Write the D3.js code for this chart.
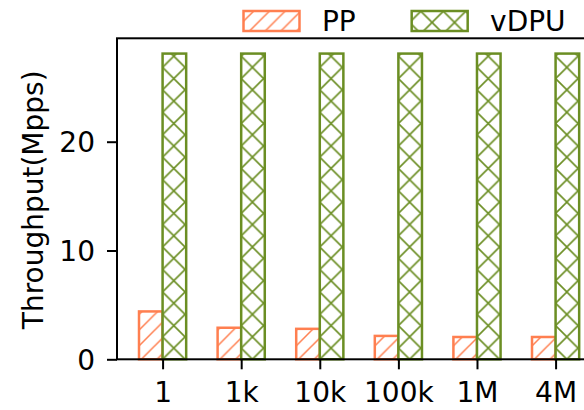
<!DOCTYPE html>
<html>
<head>
<meta charset="utf-8">
<script src="https://cdn.jsdelivr.net/npm/d3@7/dist/d3.min.js"></script>
<style>
  body { margin: 0; background: #fff; }
  svg { display: block; font-family: "DejaVu Sans", sans-serif; }
</style>
</head>
<body>
<div id="chart"></div>
<script>
// data
const categories = ["1", "1k", "10k", "100k", "1M", "4M"]
const ppValues = [4.4, 2.9, 2.8, 2.15, 2.05, 2.05]
const vdpuValues = [28.1, 28.1, 28.1, 28.1, 28.1, 28.1]
const yTicks = [0, 10, 20]
const seriesNames = ["PP", "vDPU"]
const seriesColors = ["#ff7f50", "#6b8e23"]

const W = 584, H = 410
const fontSize = 28
const barWidth = 0.3

const svg = d3.select("#chart").append("svg")
  .attr("width", W)
  .attr("height", H)

// axes box (right side runs past the window, like the original)
const plotLeft = 117, plotTop = 38.3, plotBottom = 359.3
const step = 78.6
const x = d3.scaleLinear()
  .domain([-0.58, categories.length - 1 + 0.58])
  .range([plotLeft, plotLeft + step * (categories.length - 1 + 1.16)])
const y = d3.scaleLinear()
  .domain([0, d3.max(vdpuValues) * 1.05])
  .range([plotBottom, plotTop])

// hatch patterns: "/" for PP, "x" for vDPU
const defs = svg.append("defs")
const pSlash = step / 5
const slash = defs.append("pattern")
  .attr("id", "hatchPP")
  .attr("patternUnits", "userSpaceOnUse")
  .attr("x", x(-barWidth)).attr("y", 0)
  .attr("width", pSlash).attr("height", pSlash)
slash.append("rect").attr("width", pSlash).attr("height", pSlash).attr("fill", "#fff")
slash.append("path")
  .attr("d", `M${-pSlash / 2},${pSlash / 2}L${pSlash / 2},${-pSlash / 2}M0,${pSlash}L${pSlash},0M${pSlash / 2},${pSlash * 1.5}L${pSlash * 1.5},${pSlash / 2}`)
  .attr("stroke", seriesColors[0]).attr("stroke-width", 1.5)

const pCross = step / 3.5
const cross = defs.append("pattern")
  .attr("id", "hatchVDPU")
  .attr("patternUnits", "userSpaceOnUse")
  .attr("x", x(0)).attr("y", 0)
  .attr("width", pCross).attr("height", pCross)
cross.append("rect").attr("width", pCross).attr("height", pCross).attr("fill", "#fff")
cross.append("path")
  .attr("d", `M0,${pCross}L${pCross},0M0,0L${pCross},${pCross}`)
  .attr("stroke", seriesColors[1]).attr("stroke-width", 1.6)

const fills = ["url(#hatchPP)", "url(#hatchVDPU)"]

// bars
const bw = x(barWidth) - x(0)
svg.append("g").selectAll("rect")
  .data(ppValues)
  .join("rect")
  .attr("x", (d, i) => x(i - barWidth))
  .attr("y", d => y(d))
  .attr("width", bw)
  .attr("height", d => y(0) - y(d))
  .attr("fill", fills[0])
  .attr("stroke", seriesColors[0])
  .attr("stroke-width", 2.5)

svg.append("g").selectAll("rect")
  .data(vdpuValues)
  .join("rect")
  .attr("x", (d, i) => x(i))
  .attr("y", d => y(d))
  .attr("width", bw)
  .attr("height", d => y(0) - y(d))
  .attr("fill", fills[1])
  .attr("stroke", seriesColors[1])
  .attr("stroke-width", 2.5)

// frame
svg.append("rect")
  .attr("x", x.range()[0]).attr("y", plotTop)
  .attr("width", x.range()[1] - x.range()[0])
  .attr("height", plotBottom - plotTop)
  .attr("fill", "none")
  .attr("stroke", "#000")
  .attr("stroke-width", 2)

// axes
const yAxis = svg.append("g")
  .attr("transform", `translate(${plotLeft},0)`)
  .call(d3.axisLeft(y).tickValues(yTicks).tickSize(10).tickPadding(12))
const xAxis = svg.append("g")
  .attr("transform", `translate(0,${plotBottom})`)
  .call(d3.axisBottom(x).tickValues(d3.range(categories.length))
    .tickFormat(i => categories[i]).tickSize(10).tickPadding(12.5))

for (const ax of [yAxis, xAxis]) {
  ax.select(".domain").remove()
  ax.selectAll("line").attr("stroke", "#000").attr("stroke-width", 2)
  ax.selectAll("text")
    .attr("fill", "#000")
    .style("font-size", fontSize + "px")
    .style("font-family", "DejaVu Sans")
}
yAxis.selectAll("text").attr("dy", "0.36em")

svg.append("text")
  .attr("transform", `translate(42.5,${(plotTop + plotBottom) / 2 + 1}) rotate(-90)`)
  .attr("text-anchor", "middle")
  .style("font-size", fontSize + "px")
  .text("Throughput(Mpps)")

// legend, laid out like matplotlib (handle 2em, pad 0.8em, column gap 2em)
const handleLen = 2 * fontSize
let lx = 243.5
const legend = svg.append("g")
seriesNames.forEach((name, i) => {
  legend.append("rect")
    .attr("x", lx).attr("y", 11)
    .attr("width", handleLen).attr("height", 20)
    .attr("fill", fills[i])
    .attr("stroke", seriesColors[i])
    .attr("stroke-width", 2.5)
  const t = legend.append("text")
    .attr("x", lx + handleLen + 0.8 * fontSize)
    .attr("y", 30.5)
    .style("font-size", fontSize + "px")
    .text(name)
  lx += handleLen + 0.8 * fontSize + t.node().getComputedTextLength() + 2 * fontSize
})
</script>
</body>
</html>
